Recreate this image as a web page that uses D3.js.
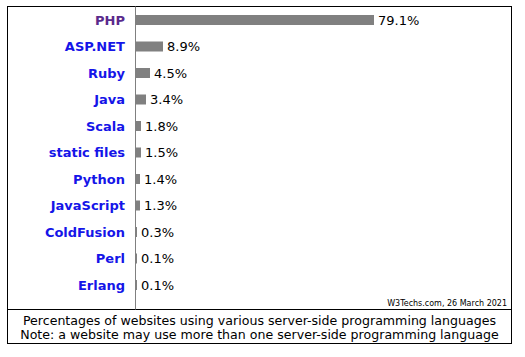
<!DOCTYPE html>
<html><head><meta charset="utf-8">
<script src="https://cdn.jsdelivr.net/npm/d3@7"></script>
<style>html,body{margin:0;padding:0;background:#fff;}svg{display:block;}</style>
</head><body><svg id="c" width="525" height="357"></svg>
<script>
const categories = ["PHP","ASP.NET","Ruby","Java","Scala","static files","Python","JavaScript","ColdFusion","Perl","Erlang"];
const values = [79.1,8.9,4.5,3.4,1.8,1.5,1.4,1.3,0.3,0.1,0.1];
const valueLabels = ["79.1%","8.9%","4.5%","3.4%","1.8%","1.5%","1.4%","1.3%","0.3%","0.1%","0.1%"];
const captionLines = ["Percentages of websites using various server-side programming languages","Note: a website may use more than one server-side programming language"];
const credit = "W3Techs.com, 26 March 2021";

const svg = d3.select("#c");
const font = "Verdana, 'DejaVu Sans', sans-serif";
const box = {l:7.5, t:6.5, r:511.5, b:343.5, sep:309.5};
const axisX = 135.5;

const x = d3.scaleLinear().domain([0, 79.1]).range([0, 238]);
const y = d3.scalePoint().domain(categories).range([20, 285]);

// outer box
svg.append("rect").attr("x",box.l).attr("y",box.t).attr("width",box.r-box.l).attr("height",box.b-box.t)
  .attr("fill","none").attr("stroke","#000").attr("stroke-width",1);
svg.append("line").attr("x1",box.l).attr("x2",box.r).attr("y1",box.sep).attr("y2",box.sep)
  .attr("stroke","#000").attr("stroke-width",1);
// axis line
svg.append("line").attr("x1",axisX).attr("x2",axisX).attr("y1",box.t).attr("y2",box.sep)
  .attr("stroke","#808080").attr("stroke-width",1);

const g = svg.append("g");
categories.forEach((c,i)=>{
  const cy = y(c);
  const w = Math.max(1, Math.round(x(values[i])));
  g.append("rect").attr("x",136).attr("y",cy-5).attr("width",w).attr("height",10).attr("fill","#808080");
  g.append("text").attr("x",136+w+4).attr("y",cy).attr("dy","0.36em")
    .attr("font-family",font).attr("font-size",13).attr("fill","#000").text(valueLabels[i]);
  g.append("text").attr("x",125).attr("y",cy).attr("dy","0.36em").attr("text-anchor","end")
    .attr("font-family",font).attr("font-size",13).attr("font-weight","bold")
    .attr("fill", i===0 ? "#5a2a8c" : "#1515e8").text(c);
});

svg.append("text").attr("x",507).attr("y",306).attr("text-anchor","end")
  .attr("font-family",font).attr("font-size",8).attr("fill","#000").text(credit);

captionLines.forEach((t,i)=>{
  svg.append("text").attr("x",259.5).attr("y",320+i*14.5).attr("dy","0.36em").attr("text-anchor","middle")
    .attr("font-family",font).attr("font-size",12.6).attr("fill","#000").text(t);
});
</script></body></html>
